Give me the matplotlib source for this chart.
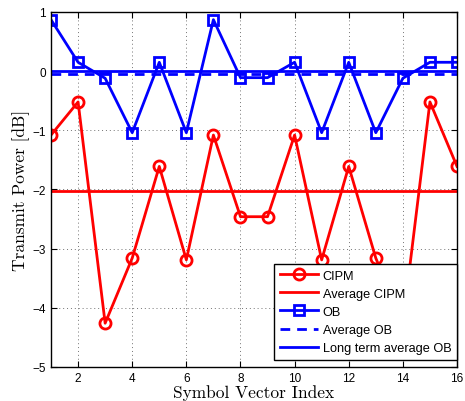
import numpy as np
import matplotlib
matplotlib.use("Agg")
import matplotlib.pyplot as plt

# symbol vector index
idx = np.arange(1, 17)

# transmit power [dB]
cipm = [-1.08, -0.52, -4.26, -3.16, -1.61, -3.19, -1.08, -2.46,
        -2.46, -1.08, -3.19, -1.61, -3.16, -4.26, -0.52, -1.61]
ob = [0.87, 0.15, -0.12, -1.04, 0.15, -1.04, 0.87, -0.11,
      -0.11, 0.15, -1.04, 0.15, -1.04, -0.12, 0.15, 0.15]
avg_cipm = -2.03
avg_ob = -0.04
lt_avg_ob = 0.01

xticks = [2, 4, 6, 8, 10, 12, 14, 16]
yticks = [-5, -4, -3, -2, -1, 0, 1]

plt.rcParams['font.family'] = ['Liberation Sans', 'DejaVu Sans']

fig = plt.figure(figsize=(4.65, 4.02), dpi=100)
ax = fig.add_axes([0.1097, 0.0846, 0.8731, 0.8831])

lw = 2.0
ax.plot(idx, cipm, color='red', lw=lw, marker='o', ms=8, mfc='none', mew=lw, label='CIPM')
ax.plot([idx[0], idx[-1]], [avg_cipm, avg_cipm], color='red', lw=lw, label='Average CIPM')
ax.plot(idx, ob, color='blue', lw=lw, marker='s', ms=7, mfc='none', mew=lw, label='OB')
ax.plot([idx[0], idx[-1]], [avg_ob, avg_ob], color='blue', lw=lw, ls='--', dashes=(3.5, 2.5), label='Average OB')
ax.plot([idx[0], idx[-1]], [lt_avg_ob, lt_avg_ob], color='blue', lw=lw, label='Long term average OB')

ax.set_xlim(1, 16)
ax.set_ylim(-5, 1)
ax.set_xticks(xticks)
ax.set_yticks(yticks)
ax.set_yticklabels([str(v).replace('-', '\u2212') for v in yticks])
ax.tick_params(direction='in', top=True, right=True, labelsize=8.5, length=4, width=0.8)
ax.grid(True, ls=(0, (1, 3)), color='0.45', lw=0.7)
for s in ax.spines.values():
    s.set_linewidth(1.0)

ax.set_xlabel('Symbol Vector Index', family='cmr10', fontsize=12.5, labelpad=0)
ax.set_ylabel('Transmit Power [dB]', family='cmr10', fontsize=12.5, labelpad=2)

leg = ax.legend(loc='lower right', bbox_to_anchor=(1.0, 0.02), fontsize=9.2, handlelength=3.0,
                frameon=True, fancybox=False, framealpha=1, edgecolor='black', borderaxespad=0,
                labelspacing=0.48, handletextpad=0.35, borderpad=0.45)
leg.get_frame().set_linewidth(1.0)

fig.savefig('out.png', dpi=100)
